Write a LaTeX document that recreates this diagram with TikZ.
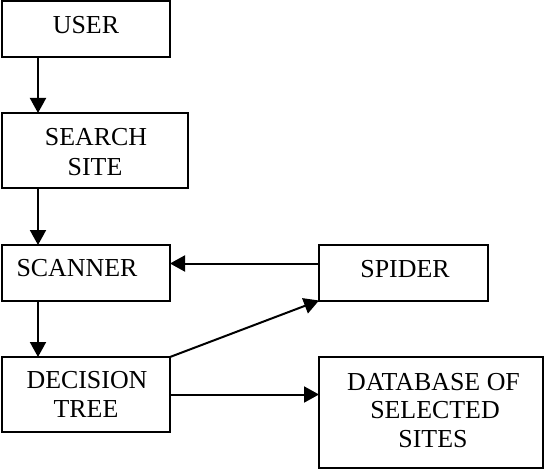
\documentclass[tikz,border=0pt]{standalone}
\usepackage{fontspec}
\setmainfont{Liberation Serif}
\usetikzlibrary{arrows.meta}
\begin{document}
\begin{tikzpicture}[x=1pt,y=-1pt,
  box/.style={draw=black,line width=2pt,rectangle,inner sep=0pt,outer sep=0pt},
  txt/.style={anchor=base,inner sep=0pt,font=\fontsize{25.9}{29.5}\selectfont},
  arr/.style={line width=2pt,-{Triangle[length=15pt,width=16pt]}}]
\useasboundingbox (0,0) rectangle (545,470);
% boxes
\node[box,minimum width=168.5pt,minimum height=55.5pt] (user) at (85.75,29.25) {};
\node[box,minimum width=186.5pt,minimum height=75pt] (search) at (94.75,150.5) {};
\node[box,minimum width=168.5pt,minimum height=55.5pt] (scanner) at (85.75,272.75) {};
\node[box,minimum width=168.5pt,minimum height=75pt] (dt) at (85.75,394.5) {};
\node[box,minimum width=169pt,minimum height=55.5pt] (spider) at (403.5,272.75) {};
\node[box,minimum width=224pt,minimum height=111pt] (db) at (431,412.5) {};
% texts
\node[txt] (tuser) at (86,33.5) {USER};
\node[txt] (tsearch1) at (96,145.5) {SEARCH};
\node[txt] (tsearch2) at (95,175.5) {SITE};
\node[txt] (tscanner) at (77,276.5) {SCANNER};
\node[txt] (tdt1) at (87,388.5) {DECISION};
\node[txt] (tdt2) at (86,417.5) {TREE};
\node[txt] (tspider) at (405,277.5) {SPIDER};
\node[txt] (tdb1) at (433.5,390.5) {DATABASE OF};
\node[txt] (tdb2) at (435,418.5) {SELECTED};
\node[txt] (tdb3) at (433,447.5) {SITES};
% connectors
\coordinate (vx) at (38,0);
\draw[arr] (user.south -| vx) -- (search.north -| vx);
\draw[arr] (search.south -| vx) -- (scanner.north -| vx);
\draw[arr] (scanner.south -| vx) -- (dt.north -| vx);
\draw[arr] ([yshift=9.25pt]spider.west) -- ([yshift=9.25pt]scanner.east);
\draw[arr] (dt.north east) -- (spider.south west);
\draw[arr] (dt.east) -- (db.west |- dt.east);
\end{tikzpicture}
\end{document}
